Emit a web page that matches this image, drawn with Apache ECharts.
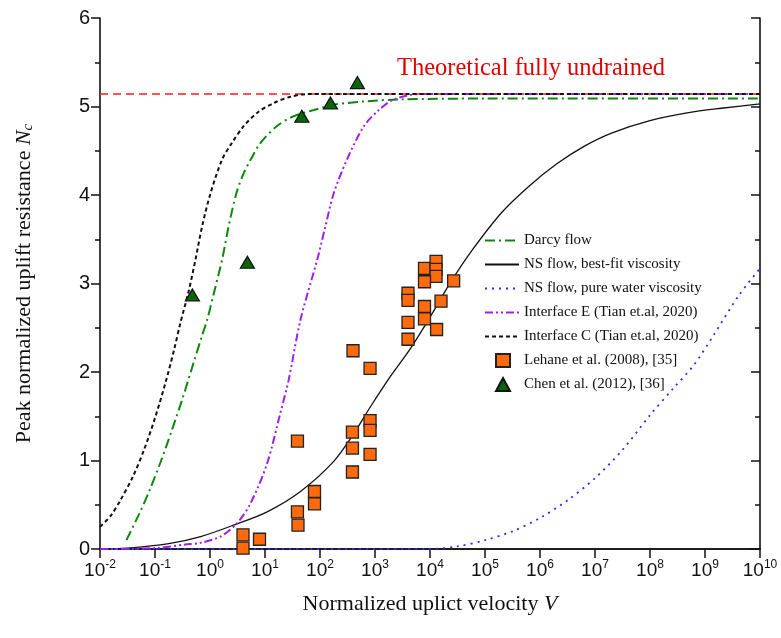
<!DOCTYPE html>
<html>
<head>
<meta charset="utf-8">
<script src="https://cdn.jsdelivr.net/npm/echarts@6/dist/echarts.min.js"></script>
<style>html,body{margin:0;padding:0;background:#fff}#c{width:781px;height:638px}</style>
</head>
<body>
<div id="c"></div>
<script>
// ---- Data (x given as log10 of V) ----
var seriesNames = ['Darcy flow', 'NS flow, best-fit viscosity', 'NS flow, pure water viscosity',
  'Interface E (Tian et.al, 2020)', 'Interface C (Tian et.al, 2020)',
  'Lehane et al. (2008), [35]', 'Chen et al. (2012), [36]'];
var xTickExponents = [-2,-1,0,1,2,3,4,5,6,7,8,9,10];
var yTicks = [0,1,2,3,4,5,6];

var undrainedNc = 5.14;

var darcyLogV = [-1.52,-1.3,-1.1,-0.9,-0.7,-0.5,-0.3,-0.15,-0.051,0.07,0.22,0.34,0.48,0.615,0.74,0.92,1.22,1.52,1.89,2.25,2.86,3.46,5,10];
var darcyNc   = [0.1,0.38,0.66,0.98,1.33,1.7,2.1,2.4,2.59,2.89,3.27,3.65,4.02,4.25,4.40,4.59,4.78,4.89,4.96,5.02,5.06,5.08,5.09,5.09];

var nsFitLogV = [-2,-1.5,-0.75,-0.17,0.43,1.04,1.645,2.25,2.6,2.92,3.28,3.65,4.01,4.37,4.77,5.3,5.8,6.3,6.8,7.3,8,8.7,9.3,10];
var nsFitNc   = [0,0.01,0.06,0.14,0.27,0.42,0.65,0.99,1.29,1.61,1.95,2.27,2.63,3.01,3.38,3.8,4.1,4.35,4.55,4.7,4.84,4.93,4.98,5.03];

var nsWaterLogV = [-2,4,4.5,5,5.5,6,6.5,7,7.5,8.01,8.43,8.8,9.16,9.62,10];
var nsWaterNc   = [0,0,0.03,0.1,0.2,0.35,0.55,0.8,1.12,1.52,1.82,2.08,2.42,2.87,3.17];

var ifaceELogV = [-2,-1,-0.45,-0.17,0.19,0.49,0.74,1.04,1.28,1.43,1.645,1.95,2.10,2.25,2.49,2.80,3.07,3.34,3.8,10];
var ifaceENc   = [0,0.01,0.05,0.07,0.14,0.29,0.52,0.97,1.54,1.91,2.59,3.27,3.65,4.02,4.40,4.78,4.96,5.08,5.14,5.14];

var ifaceCLogV = [-2,-1.8,-1.63,-1.4,-1.2,-1.0,-0.8,-0.65,-0.54,-0.385,-0.264,-0.142,0.01,0.22,0.40,0.615,0.86,1.16,1.46,1.77,2.5,10];
var ifaceCNc   = [0.25,0.38,0.55,0.82,1.12,1.48,1.9,2.26,2.55,2.92,3.27,3.65,4.02,4.40,4.59,4.78,4.93,5.04,5.11,5.14,5.14,5.14];

var lehaneLogV = [3.9,4.11,4.11,4.11,3.9,4.43,3.6,3.6,4.2,3.9,3.9,3.6,4.12,3.6,2.6,2.91,2.91,2.91,2.59,2.59,2.59,2.91,1.59,1.9,1.9,1.59,1.6,0.6,0.9,0.6];
var lehaneNc   = [3.17,3.25,3.16,3.08,3.02,3.03,2.89,2.81,2.80,2.74,2.60,2.56,2.48,2.37,2.24,2.04,1.45,1.34,1.32,1.14,0.87,1.07,1.22,0.65,0.51,0.42,0.27,0.16,0.11,0.01];

var chenLogV = [2.68,2.19,1.67,0.68,-0.32];
var chenNc   = [5.27,5.04,4.89,3.24,2.87];

function pairs(lx, ys) { return lx.map(function (e, i) { return [Math.pow(10, e), ys[i]]; }); }

var serif = 'Liberation Serif';
var sans = 'Liberation Sans';

var chart = echarts.init(document.getElementById('c'), null, {renderer: 'canvas'});

function lineSeries(name, lx, ys, color, width, dash, z) {
  return {
    name: name, type: 'line', xAxisIndex: 0, yAxisIndex: 0,
    data: pairs(lx, ys), symbol: 'none', smooth: 0.3,
    lineStyle: {color: color, width: width, type: dash}, itemStyle: {color: color},
    z: z || 2, silent: true
  };
}

var lineLegendData = seriesNames.slice(0, 5).map(function (n) {
  return {name: n, itemStyle: {opacity: 0}};
});
var markLegendData = [{name: seriesNames[5], icon: 'rect'}, {name: seriesNames[6], icon: 'triangle'}];

var option = {
  animation: false,
  backgroundColor: '#fff',
  grid: {left: 100, right: 21, top: 18, bottom: 89, containLabel: false},
  xAxis: [{
    type: 'log', logBase: 10, min: 0.01, max: 1e10, interval: 1, position: 'bottom',
    name: '{t|Normalized uplict velocity }{i|V}', nameLocation: 'middle', nameGap: 44,
    nameTextStyle: {rich: {
      t: {fontFamily: serif, fontSize: 22, color: '#111'},
      i: {fontFamily: serif, fontSize: 22, fontStyle: 'italic', color: '#111'}}},
    axisLine: {lineStyle: {color: '#111', width: 1.6}},
    axisTick: {inside: false, length: 9, lineStyle: {color: '#111', width: 1.5}},
    minorTick: {show: false},
    splitLine: {show: false},
    axisLabel: {
      margin: 10,
      formatter: function (v) {
        var e = Math.round(Math.log10(v));
        return '{b|10}{s|' + e + '}';
      },
      rich: {
        b: {fontFamily: sans, fontSize: 19, color: '#111'},
        s: {fontFamily: sans, fontSize: 12, color: '#111', padding: [0, 0, 11, 0]}
      }
    }
  }, {
    type: 'log', logBase: 10, min: 0.01, max: 1e10, interval: 1, position: 'top',
    axisLine: {lineStyle: {color: '#111', width: 1.6}},
    axisTick: {inside: true, length: 9, lineStyle: {color: '#111', width: 1.5}},
    axisLabel: {show: false}, splitLine: {show: false}
  }],
  yAxis: [{
    type: 'value', min: 0, max: 6, interval: 1, position: 'left',
    name: '{t|Peak normalized uplift resistance }{i|N}{s|c}', nameLocation: 'middle', nameGap: 64,
    nameRotate: 90,
    nameTextStyle: {rich: {
      t: {fontFamily: serif, fontSize: 22, color: '#111'},
      i: {fontFamily: serif, fontSize: 22, fontStyle: 'italic', color: '#111'},
      s: {fontFamily: serif, fontSize: 15, fontStyle: 'italic', color: '#111', padding: [8, 0, 0, 0]}}},
    axisLine: {show: true, lineStyle: {color: '#111', width: 1.6}},
    axisTick: {show: true, inside: false, length: 9, lineStyle: {color: '#111', width: 1.5}},
    minorTick: {show: true, splitNumber: 2, length: 5, lineStyle: {color: '#111', width: 1.5}},
    splitLine: {show: false}, minorSplitLine: {show: false},
    axisLabel: {margin: 10, fontFamily: sans, fontSize: 20, color: '#111'}
  }, {
    type: 'value', min: 0, max: 6, interval: 1, position: 'right',
    axisLine: {show: true, lineStyle: {color: '#111', width: 1.6}},
    axisTick: {show: true, inside: true, length: 9, lineStyle: {color: '#111', width: 1.5}},
    minorTick: {show: true, splitNumber: 2, length: 5, lineStyle: {color: '#111', width: 1.5}},
    splitLine: {show: false}, axisLabel: {show: false}
  }],
  legend: [{
    orient: 'vertical', left: 484, top: 233, itemWidth: 34, itemHeight: 14, itemGap: 9,
    padding: 0,
    data: lineLegendData,
    textStyle: {fontFamily: serif, fontSize: 15, color: '#111', lineHeight: 15}
  }, {
    orient: 'vertical', left: 495, top: 353, itemWidth: 14, itemHeight: 13, itemGap: 9,
    padding: 0,
    data: markLegendData,
    textStyle: {fontFamily: serif, fontSize: 15, color: '#111', lineHeight: 15, padding: [0, 0, 0, 9]}
  }],
  graphic: [{
    type: 'text', left: 397, top: 56,
    style: {text: 'Theoretical fully undrained', fontFamily: serif, fontSize: 24.5, fill: '#e00000'}
  }],
  series: [
    {
      name: 'undrained', type: 'line', data: [[0.01, undrainedNc], [1e10, undrainedNc]],
      symbol: 'none', lineStyle: {color: '#ff1a1a', width: 1.5, type: [8, 5]}, z: 1, silent: true
    },
    lineSeries(seriesNames[0], darcyLogV, darcyNc, '#0a8a0a', 2, [10, 4, 2, 4], 3),
    lineSeries(seriesNames[1], nsFitLogV, nsFitNc, '#111', 1.3, 'solid', 3),
    lineSeries(seriesNames[2], nsWaterLogV, nsWaterNc, '#2b2bff', 1.8, [2, 5], 3),
    lineSeries(seriesNames[3], ifaceELogV, ifaceENc, '#a01ff0', 2, [8, 3, 2, 3, 2, 3], 3),
    lineSeries(seriesNames[4], ifaceCLogV, ifaceCNc, '#111', 2, [4, 3], 4),
    {
      name: seriesNames[5], type: 'scatter', data: pairs(lehaneLogV, lehaneNc),
      symbol: 'rect', symbolSize: 12,
      itemStyle: {color: '#ff6a0d', borderColor: '#222', borderWidth: 1.3, opacity: 1}, z: 5
    },
    {
      name: seriesNames[6], type: 'scatter', data: pairs(chenLogV, chenNc),
      symbol: 'triangle', symbolSize: [14, 12],
      itemStyle: {color: '#0a640a', borderColor: '#111', borderWidth: 1.2, opacity: 1}, z: 6
    }
  ]
};
chart.setOption(option);
</script>
</body>
</html>
